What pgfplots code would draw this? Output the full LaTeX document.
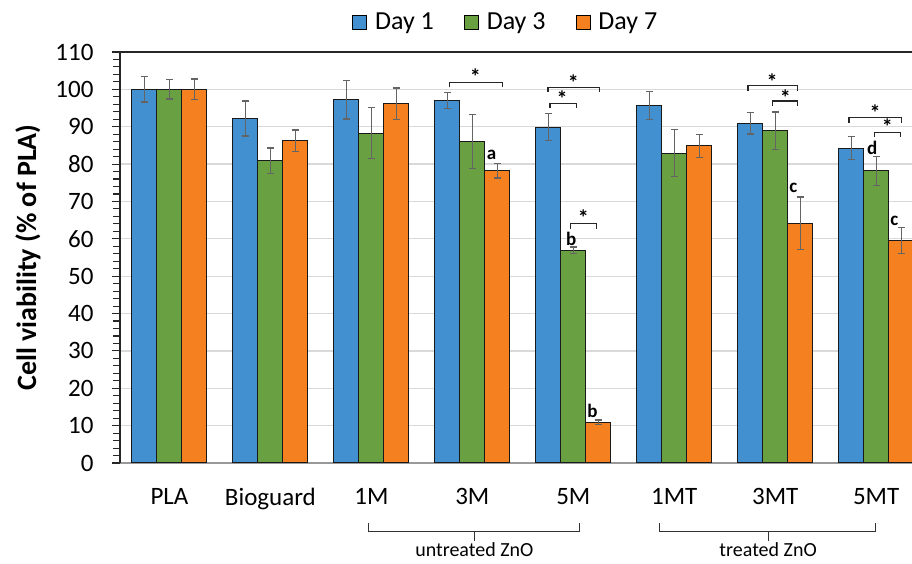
\documentclass[border=0pt]{standalone}
\usepackage{pgfplots}
\usepackage{pgfplotstable}
\pgfplotsset{compat=1.18}
\usepackage{fontspec}
\setmainfont{Carlito}
\definecolor{cblue}{RGB}{66,144,207}
\definecolor{cgreen}{RGB}{104,160,66}
\definecolor{corange}{RGB}{245,128,32}
\definecolor{errgray}{RGB}{100,100,100}
\pgfplotstableread{
x y e
0 100 3.4
1 92.2 4.65
2 97.2 5.1
3 97.0 2.1
4 89.9 3.6
5 95.7 3.8
6 90.9 2.85
7 84.3 3.1
}\dayone
\pgfplotstableread{
x y e
0 100 2.6
1 80.9 3.4
2 88.3 6.8
3 86.0 7.2
4 56.9 0.9
5 82.9 6.3
6 88.9 5.0
7 78.2 3.85
}\daythree
\pgfplotstableread{
x y e
0 100 2.8
1 86.2 2.9
2 96.2 4.2
3 78.2 1.9
4 10.9 0.6
5 84.9 3.1
6 64.2 7.0
7 59.5 3.45
}\dayseven
\begin{document}
\begin{tikzpicture}
\useasboundingbox (-120pt,-101pt) rectangle (792pt,463pt);
\begin{axis}[
  at={(0pt,0pt)}, anchor=south west,
  scale only axis, width=792pt, height=411pt,
  xmin=-0.49, xmax=7.355, ymin=0, ymax=110,
  clip mode=individual,
  ybar=0pt, bar width=25pt,
  axis x line*=bottom, axis y line*=left,
  axis line style={-},
  x axis line style={draw=gray!80, line width=1.2pt},
  y axis line style={draw=black!85, line width=1.3pt},
  xtick=data,
  xticklabels={PLA,Bioguard,1M,3M,5M,1MT,3MT,5MT},
  major x tick style={draw=none},
  x tick label style={font=\fontsize{25}{25}\selectfont, yshift=-14pt},
  ytick={0,10,...,110},
  minor y tick num=4,
  tick align=outside,
  major tick length=8pt, minor tick length=7pt,
  y tick style={black!85, line width=1.1pt},
  y tick label style={font=\fontsize{25}{25}\selectfont, xshift=-15pt},
  /pgf/number format/assume math mode=true,
  ymajorgrids, grid style={draw=gray!30, line width=1.3pt},
  ylabel={Cell viability (\% of PLA)},
  ylabel style={at={(axis description cs:-0.1162,0.5)}, anchor=center, rotate=0, font=\bfseries\fontsize{28}{28}\selectfont},
  legend columns=3,
  legend style={at={(rel axis cs:0.487,1.073)}, anchor=center, draw=none, fill=none,
    font=\fontsize{26}{26}\selectfont,
    /tikz/every odd column/.append style={column sep=6pt},
    /tikz/every even column/.append style={column sep=28pt},
    nodes={inner sep=2pt}},
  legend image code/.code={\draw[#1, draw=black, line width=0.9pt] (0pt,-7pt) rectangle (14pt,7pt);},
  error bars/y dir=both, error bars/y explicit,
  error bars/error bar style={errgray, line width=1.3pt},
  error bars/error mark options={errgray, rotate=90, mark size=3.5pt, line width=1.3pt},
]
\addplot[fill=cblue, draw=black!90, line width=1pt] table[x=x, y=y, y error=e] {\dayone};
\addplot[fill=cgreen, draw=black!90, line width=1pt] table[x=x, y=y, y error=e] {\daythree};
\addplot[fill=corange, draw=black!90, line width=1pt] table[x=x, y=y, y error=e] {\dayseven};
\legend{Day 1, Day 3, Day 7}
% top frame line
\draw[black!85, line width=1.3pt] (rel axis cs:0,1) -- (rel axis cs:1,1);
% significance brackets
\tikzset{br/.style={draw=black!85, line width=1.2pt}, st/.style={font=\bfseries\fontsize{22}{22}\selectfont, inner sep=0pt, anchor=center}, lt/.style={font=\bfseries\fontsize{19}{19}\selectfont, inner sep=0pt, anchor=center}}
% 3M
\draw[br] (axis cs:2.77,100.5) -- (axis cs:2.77,101.9) -- (axis cs:3.30,101.9) -- (axis cs:3.30,100.5);
\node[st] at (axis cs:3.03,103.3) {*};
\node[lt] at (axis cs:3.19,82.4) {a};
% 5M
\draw[br] (axis cs:3.75,99.2) -- (axis cs:3.75,100.6) -- (axis cs:4.26,100.6) -- (axis cs:4.26,99.2);
\node[st] at (axis cs:4.0,101.9) {*};
\draw[br] (axis cs:3.77,94.9) -- (axis cs:3.77,96.3) -- (axis cs:4.03,96.3) -- (axis cs:4.03,94.9);
\node[st] at (axis cs:3.89,97.6) {*};
\draw[br] (axis cs:3.97,62.6) -- (axis cs:3.97,64.2) -- (axis cs:4.23,64.2) -- (axis cs:4.23,62.6);
\node[st] at (axis cs:4.10,65.6) {*};
\node[lt] at (axis cs:3.98,59.9) {b};
\node[lt] at (axis cs:4.19,13.9) {b};
% 3MT
\draw[br] (axis cs:5.73,99.6) -- (axis cs:5.73,101.0) -- (axis cs:6.22,101.0) -- (axis cs:6.22,99.6);
\node[st] at (axis cs:5.97,102.0) {*};
\draw[br] (axis cs:5.97,95.6) -- (axis cs:5.97,96.9) -- (axis cs:6.22,96.9) -- (axis cs:6.22,95.6);
\node[st] at (axis cs:6.10,97.9) {*};
\node[lt] at (axis cs:6.18,73.5) {c};
% 5MT
\draw[br] (axis cs:6.73,91.1) -- (axis cs:6.73,92.5) -- (axis cs:7.25,92.5) -- (axis cs:7.25,91.1);
\node[st] at (axis cs:6.99,93.9) {*};
\draw[br] (axis cs:6.98,87.2) -- (axis cs:6.98,88.4) -- (axis cs:7.24,88.4) -- (axis cs:7.24,87.2);
\node[st] at (axis cs:7.11,89.9) {*};
\node[lt] at (axis cs:6.96,84.4) {d};
\node[lt] at (axis cs:7.18,64.9) {c};
% group brackets below axis
\draw[draw=black!80, line width=1.1pt] (axis cs:1.975,-16.1) -- (axis cs:1.975,-18.4) -- (axis cs:4.064,-18.4) -- (axis cs:4.064,-16.1);
\draw[draw=black!80, line width=1.1pt] (axis cs:3.02,-18.4) -- (axis cs:3.02,-21.0);
\node[font=\fontsize{20}{20}\selectfont, inner sep=0pt, anchor=base] at (axis cs:3.02,-25.1) {untreated ZnO};
\draw[draw=black!80, line width=1.1pt] (axis cs:4.856,-16.1) -- (axis cs:4.856,-18.4) -- (axis cs:6.995,-18.4) -- (axis cs:6.995,-16.1);
\draw[draw=black!80, line width=1.1pt] (axis cs:5.93,-18.4) -- (axis cs:5.93,-21.0);
\node[font=\fontsize{20}{20}\selectfont, inner sep=0pt, anchor=base] at (axis cs:5.93,-25.1) {treated ZnO};
\end{axis}
\end{tikzpicture}
\end{document}
